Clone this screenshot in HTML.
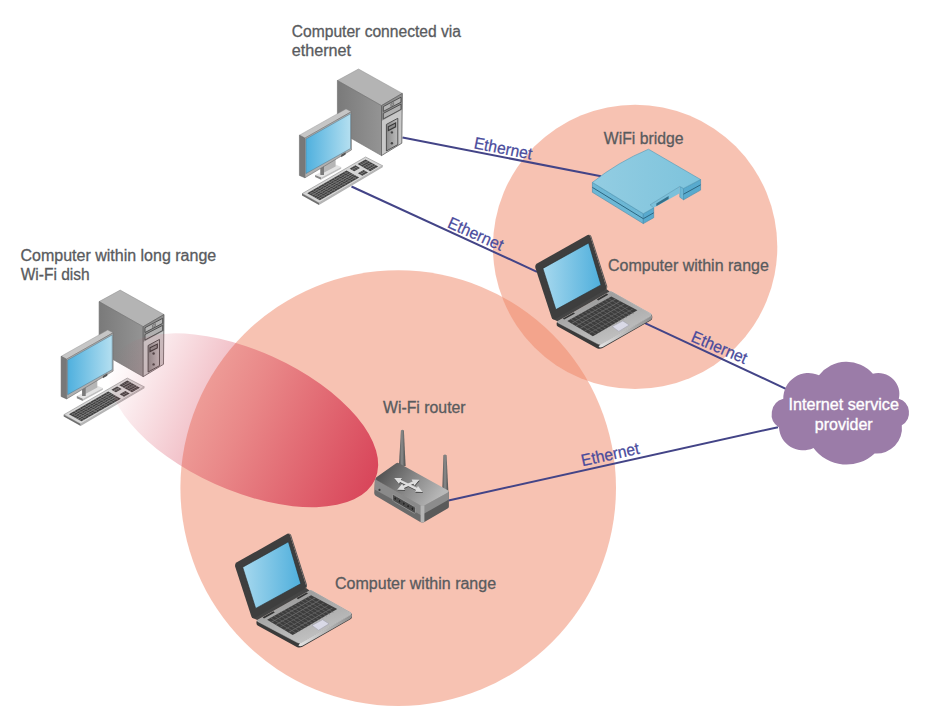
<!DOCTYPE html>
<html lang="en">
<head>
<meta charset="utf-8">
<title>Wi-Fi network diagram</title>
<style>
html,body{margin:0;padding:0;background:#fff;}
body{width:940px;height:722px;overflow:hidden;}
svg{display:block;}
text{font-family:"Liberation Sans",sans-serif;font-size:15.8px;}
.lbl{fill:#595b5e;stroke:#595b5e;stroke-width:0.3px;}
.eth{fill:#4a4b9c;stroke:#4a4b9c;stroke-width:0.25px;}
.wht{fill:#ffffff;stroke:#ffffff;stroke-width:0.35px;}
.wire{stroke:#434487;stroke-width:2;fill:none;}
</style>
</head>
<body>
<svg width="940" height="722" viewBox="0 0 940 722">
<defs>
<linearGradient id="beam" gradientUnits="userSpaceOnUse" x1="-144" y1="0" x2="144" y2="0">
<stop offset="0" stop-color="#d4334d" stop-opacity="0"/>
<stop offset="0.5" stop-color="#d5344c" stop-opacity="0.41"/>
<stop offset="1" stop-color="#d4334d" stop-opacity="0.87"/>
</linearGradient>
<linearGradient id="scr" x1="0" y1="0" x2="1" y2="0">
<stop offset="0" stop-color="#4fb0de"/>
<stop offset="1" stop-color="#b4dff0"/>
</linearGradient>
<linearGradient id="lscr" x1="0" y1="0" x2="1" y2="0">
<stop offset="0" stop-color="#a6d8ee"/>
<stop offset="1" stop-color="#4fafdc"/>
</linearGradient>
<linearGradient id="twl" x1="0" y1="0" x2="1" y2="0">
<stop offset="0" stop-color="#7a7a7a"/>
<stop offset="1" stop-color="#949494"/>
</linearGradient>
<linearGradient id="twp" x1="0" y1="0" x2="1" y2="0">
<stop offset="0" stop-color="#8c8c8c"/>
<stop offset="1" stop-color="#bdbdbd"/>
</linearGradient>
<linearGradient id="rtop" gradientUnits="userSpaceOnUse" x1="386" y1="468" x2="436" y2="502">
<stop offset="0" stop-color="#565656"/>
<stop offset="0.5" stop-color="#8a8a8a"/>
<stop offset="1" stop-color="#b8b8b8"/>
</linearGradient>
<linearGradient id="ant" x1="0" y1="0" x2="1" y2="0">
<stop offset="0" stop-color="#505050"/>
<stop offset="0.45" stop-color="#8c8c8c"/>
<stop offset="1" stop-color="#4c4c4c"/>
</linearGradient>
<linearGradient id="brg" x1="0" y1="0" x2="1" y2="0">
<stop offset="0" stop-color="#93cde2"/>
<stop offset="1" stop-color="#7dc3dc"/>
</linearGradient>
<linearGradient id="lbase" gradientUnits="userSpaceOnUse" x1="600" y1="300" x2="612" y2="342">
<stop offset="0" stop-color="#a0a0a0"/>
<stop offset="1" stop-color="#c2c2c2"/>
</linearGradient>
<linearGradient id="lside" gradientUnits="userSpaceOnUse" x1="600" y1="346" x2="652" y2="317">
<stop offset="0" stop-color="#e2e2e2"/>
<stop offset="0.5" stop-color="#b8b8b8"/>
<stop offset="1" stop-color="#8e8e8e"/>
</linearGradient>

<g id="pc"><polygon points="337.4,80.5 358.5,69.0 402.3,93.4 381.5,105.6" fill="#b4b4b4" stroke="#8c8c8c" stroke-width="0.5"/>
<polygon points="337.4,80.5 381.5,105.6 381.5,155.6 337.4,130.5" fill="url(#twl)" stroke="#6c6c6c" stroke-width="0.6"/>
<polygon points="381.5,105.6 402.3,93.4 401.8,143.2 381.5,155.6" fill="#c8c8c8"/>
<polygon points="381.5,105.6 402.3,93.4 402.2,109.6 381.5,121.0" fill="#8e8e8e"/>
<polygon points="381.5,105.6 402.3,93.4 401.8,143.2 381.5,155.6" fill="none" stroke="#5c5c5c" stroke-width="0.8"/>
<polygon points="383.3,106.6 401.0,97.2 401.0,102.2 383.3,111.4" fill="#b4b4b4" stroke="#484848" stroke-width="0.9"/>
<polygon points="383.3,113.4 401.0,104.2 401.0,109.4 383.3,118.9" fill="#b0b0b0" stroke="#484848" stroke-width="0.9"/>
<polygon points="390.8,104.0 393.7,102.5 393.7,105.0 390.8,106.5" fill="#a0a0a0" stroke="#555" stroke-width="0.5"/>
<polygon points="386.4,124.4 397.8,118.3 397.8,144.6 386.4,151.0" fill="url(#twp)" stroke="#444" stroke-width="0.9"/>
<polygon points="388.3,126.7 395.6,123.0 395.6,126.8 388.3,130.5" fill="#8c8c8c" stroke="#3a3a3a" stroke-width="1.1"/>
<circle cx="391.9" cy="132.4" r="1.2" fill="#444"/>
<circle cx="391.9" cy="143.3" r="1.2" fill="#444"/>
<polygon points="299.4,135.2 346.0,108.9 351.4,111.7 304.9,138.1" fill="#c6c6c6" stroke="#8a8a8a" stroke-width="0.4"/>
<polygon points="299.4,135.2 304.9,138.1 304.9,177.8 299.4,175.4" fill="#787878" stroke="#5e5e5e" stroke-width="0.5"/>
<polygon points="315.1,174.9 335.7,164.6 341.2,166.9 321.2,177.6" fill="#e4e4e4"/>
<polygon points="315.1,174.9 321.2,177.6 321.2,179.8 315.1,177.1" fill="#888"/>
<polygon points="321.2,177.6 341.2,166.9 341.2,168.7 321.2,179.6" fill="#c0c0c0"/>
<polygon points="320.4,166.0 335.6,158.0 335.6,166.5 320.4,174.6" fill="#b6b6b6"/>
<polygon points="320.4,167.0 324.0,165.3 324.0,175.0 320.4,175.0" fill="#7a7a7a"/>
<polygon points="304.9,138.1 351.4,111.7 351.4,150.0 304.9,177.8" fill="#b0b0b0" stroke="#6a6a6a" stroke-width="0.6"/>
<polygon points="305.9,139.0 350.5,113.8 350.5,148.5 305.9,173.6" fill="url(#scr)" stroke="#4f7386" stroke-width="0.5"/>
<polygon points="341.2,154.8 345.6,152.2 345.6,154.6 341.2,157.2" fill="#555"/>
<polygon points="302.2,193.6 365.6,157.0 382.7,165.8 319.0,203.0" fill="#d6d6d6" stroke="#8a8a8a" stroke-width="0.6"/>
<polygon points="302.0,193.6 319.0,203.0 319.0,205.0 302.0,195.4" fill="#6e6e6e"/>
<polygon points="319.0,203.0 382.7,165.8 382.7,167.2 319.0,205.0" fill="#b4b4b4"/>
<g transform="matrix(63.4,-36.6,16.8,9.4,302.2,193.6)">
<rect x="0.045" y="0.130" width="0.620" height="0.750" fill="#3e3e3e"/>
<rect x="0.045" y="0.238" width="0.620" height="0.034" fill="#8e8e8e"/>
<rect x="0.045" y="0.363" width="0.620" height="0.034" fill="#8e8e8e"/>
<rect x="0.045" y="0.488" width="0.620" height="0.034" fill="#8e8e8e"/>
<rect x="0.045" y="0.613" width="0.620" height="0.034" fill="#8e8e8e"/>
<rect x="0.045" y="0.738" width="0.620" height="0.034" fill="#8e8e8e"/>
<rect x="0.0828" y="0.130" width="0.007" height="0.750" fill="#808080"/>
<rect x="0.1242" y="0.130" width="0.007" height="0.750" fill="#808080"/>
<rect x="0.1655" y="0.130" width="0.007" height="0.750" fill="#808080"/>
<rect x="0.2068" y="0.130" width="0.007" height="0.750" fill="#808080"/>
<rect x="0.2482" y="0.130" width="0.007" height="0.750" fill="#808080"/>
<rect x="0.2895" y="0.130" width="0.007" height="0.750" fill="#808080"/>
<rect x="0.3308" y="0.130" width="0.007" height="0.750" fill="#808080"/>
<rect x="0.3722" y="0.130" width="0.007" height="0.750" fill="#808080"/>
<rect x="0.4135" y="0.130" width="0.007" height="0.750" fill="#808080"/>
<rect x="0.4548" y="0.130" width="0.007" height="0.750" fill="#808080"/>
<rect x="0.4962" y="0.130" width="0.007" height="0.750" fill="#808080"/>
<rect x="0.5375" y="0.130" width="0.007" height="0.750" fill="#808080"/>
<rect x="0.5788" y="0.130" width="0.007" height="0.750" fill="#808080"/>
<rect x="0.6202" y="0.130" width="0.007" height="0.750" fill="#808080"/>
<rect x="0.715" y="0.130" width="0.090" height="0.270" fill="#3e3e3e"/>
<rect x="0.715" y="0.248" width="0.090" height="0.034" fill="#8e8e8e"/>
<rect x="0.7415" y="0.130" width="0.007" height="0.270" fill="#808080"/>
<rect x="0.7715" y="0.130" width="0.007" height="0.270" fill="#808080"/>
<rect x="0.715" y="0.620" width="0.090" height="0.260" fill="#3e3e3e"/>
<rect x="0.715" y="0.733" width="0.090" height="0.034" fill="#8e8e8e"/>
<rect x="0.7415" y="0.620" width="0.007" height="0.260" fill="#808080"/>
<rect x="0.7715" y="0.620" width="0.007" height="0.260" fill="#808080"/>
<rect x="0.840" y="0.130" width="0.125" height="0.750" fill="#3e3e3e"/>
<rect x="0.840" y="0.263" width="0.125" height="0.034" fill="#8e8e8e"/>
<rect x="0.840" y="0.413" width="0.125" height="0.034" fill="#8e8e8e"/>
<rect x="0.840" y="0.563" width="0.125" height="0.034" fill="#8e8e8e"/>
<rect x="0.840" y="0.713" width="0.125" height="0.034" fill="#8e8e8e"/>
<rect x="0.8678" y="0.130" width="0.007" height="0.750" fill="#808080"/>
<rect x="0.8990" y="0.130" width="0.007" height="0.750" fill="#808080"/>
<rect x="0.9303" y="0.130" width="0.007" height="0.750" fill="#808080"/>
</g></g>
<g id="laptop"><path d="M557.0,322.0 L609.0,292.0 Q610.6,291.1 612.2,292.0 L650.8,313.8 Q652.4,315.0 652.2,316.8 L652.2,318.2 Q652.0,319.8 650.2,320.8 L602.6,348.0 Q599.8,349.4 597.0,348.2 L557.8,326.6 Q556.4,325.6 556.6,323.4 Z" fill="#3a3a3a"/>
<path d="M600.0,344.4 L651.6,315.2 Q652.6,316.6 652.0,318.0 Q651.6,319.4 650.0,320.2 L602.6,347.0 Q600.4,347.8 598.6,347.0 Z" fill="url(#lside)"/>
<path d="M557.4,321.2 L609.0,291.9 Q610.6,291.1 612.2,291.9 L650.8,313.6 Q652.4,314.8 650.6,316.0 L602.0,343.8 Q599.8,344.8 597.6,343.8 L558.0,322.8 Q556.8,322.0 557.4,321.2 Z" fill="url(#lbase)" stroke="#cfcfcf" stroke-width="0.5"/>
<polygon points="552.0,318.6 605.6,288.6 609.6,291.6 557.4,321.2" fill="#454545"/>
<polygon points="567.3,320.9 611.3,296.4 637.4,310.2 592.9,336.2" fill="#3d3d3d"/>
<g transform="matrix(44.0,-24.5,25.6,15.3,567.3,320.9)" stroke="#6c6c6c" fill="none">
<line x1="0" y1="0.167" x2="1" y2="0.167" stroke-width="0.026"/>
<line x1="0" y1="0.333" x2="1" y2="0.333" stroke-width="0.026"/>
<line x1="0" y1="0.500" x2="1" y2="0.500" stroke-width="0.026"/>
<line x1="0" y1="0.667" x2="1" y2="0.667" stroke-width="0.026"/>
<line x1="0" y1="0.833" x2="1" y2="0.833" stroke-width="0.026"/>
<line x1="0.077" y1="0" x2="0.077" y2="1" stroke-width="0.014"/>
<line x1="0.154" y1="0" x2="0.154" y2="1" stroke-width="0.014"/>
<line x1="0.231" y1="0" x2="0.231" y2="1" stroke-width="0.014"/>
<line x1="0.308" y1="0" x2="0.308" y2="1" stroke-width="0.014"/>
<line x1="0.385" y1="0" x2="0.385" y2="1" stroke-width="0.014"/>
<line x1="0.462" y1="0" x2="0.462" y2="1" stroke-width="0.014"/>
<line x1="0.538" y1="0" x2="0.538" y2="1" stroke-width="0.014"/>
<line x1="0.615" y1="0" x2="0.615" y2="1" stroke-width="0.014"/>
<line x1="0.692" y1="0" x2="0.692" y2="1" stroke-width="0.014"/>
<line x1="0.769" y1="0" x2="0.769" y2="1" stroke-width="0.014"/>
<line x1="0.846" y1="0" x2="0.846" y2="1" stroke-width="0.014"/>
<line x1="0.923" y1="0" x2="0.923" y2="1" stroke-width="0.014"/>
</g>
<polygon points="612.2,326.6 622.8,320.9 629.2,325.0 618.8,331.4" fill="#d9d9e6" stroke="#9a9aa8" stroke-width="0.5"/>
<polygon points="562.8,318.4 573.6,312.4 575.0,313.6 564.2,319.6" fill="#333"/>
<polygon points="596.8,299.2 606.8,293.6 608.2,294.8 598.2,300.4" fill="#333"/>
<path d="M536.6,263.8 L587.6,234.9 Q589.6,234.2 590.4,236.6 L606.2,286.4 Q606.8,288.8 605.0,290.0 L555.0,319.2 Q552.6,320.4 551.6,317.6 L535.4,268.0 Q534.8,265.0 536.6,263.8 Z" fill="#3e3e3e"/>
<path d="M589.2,234.8 Q590.6,234.6 591.4,236.4 L607.2,286.0 Q607.6,288.2 606.2,289.4 L605.0,290.0 Q606.8,288.8 606.2,286.4 L590.4,236.6 Q589.9,235.2 589.2,234.8 Z" fill="#5a5a5a"/>
<polygon points="542.9,268.4 588.6,243.0 601.0,284.9 555.9,309.6" fill="url(#lscr)" stroke="#2a2a2a" stroke-width="0.6"/></g>
</defs>
<rect width="940" height="722" fill="#ffffff"/>
<circle cx="398.2" cy="488.1" r="217.8" fill="#ef8565" fill-opacity="0.5"/>
<circle cx="635.1" cy="246.9" r="142.2" fill="#ef8565" fill-opacity="0.5"/>
<line class="wire" x1="402.5" y1="137.45" x2="601" y2="176.35"/>
<line class="wire" x1="351.5" y1="186.5" x2="537" y2="271.8"/>
<line class="wire" x1="645" y1="323.2" x2="788" y2="389.8"/>
<line class="wire" x1="448.5" y1="500.5" x2="778" y2="427.15"/>
<use href="#pc"/>
<use href="#pc" transform="translate(-238.3,221.1)"/>
<g transform="translate(243.7,420.3) rotate(24.23)"><ellipse cx="0" cy="0" rx="144.06" ry="69.88" fill="url(#beam)"/></g>
<g><polygon points="592.4,182.4 643.3,213.7 643.3,223.6 592.4,192.3" fill="#6cb7d5" stroke="#3f8cae" stroke-width="0.6"/>
<polygon points="643.3,213.7 653.7,207.8 653.7,217.7 643.3,223.6" fill="#58aace" stroke="#3f8cae" stroke-width="0.6"/>
<polygon points="683.5,188.4 700.6,179.5 700.6,190.1 683.5,199.8" fill="#58aace" stroke="#3f8cae" stroke-width="0.6"/>
<polygon points="679.8,186.5 683.5,188.4 683.5,199.8 679.8,197.2" fill="#6cb7d5" stroke="#3f8cae" stroke-width="0.5"/>
<polygon points="650.0,204.8 679.8,186.5 679.8,193.2 653.7,207.8" fill="#7cc0da"/>
<polygon points="656.3,203.4 668.6,196.0 668.6,199.0 656.3,206.2" fill="#34708a"/>
<path d="M592.4,182.4 Q618,162 648.5,149.2 L700.6,179.5 L683.5,188.4 L679.8,186.5 L650.0,204.8 L653.7,207.8 L643.3,213.7 Z" fill="url(#brg)" stroke="#4a98b8" stroke-width="0.6"/>
<polyline points="592.4,187.4 643.3,218.7 653.7,212.8" fill="none" stroke="#2c6782" stroke-width="1"/>
<polyline points="683.5,194.2 700.6,184.8" fill="none" stroke="#2c6782" stroke-width="1"/></g>
<use href="#laptop"/>
<use href="#laptop" transform="translate(-300.2,298.8)"/>
<g><path d="M400.9,430.4 Q402.4,429.0 403.9,430.4 L405.6,466 L398.9,466 Z" fill="url(#ant)"/>
<path d="M443.4,455.2 Q445.0,453.8 446.6,455.2 L448.4,492.5 L442.2,492.5 Z" fill="url(#ant)"/>
<path d="M375.0,479.0 L422.5,506.0 L422.5,522.4 Q421.4,522.6 420.2,522.0 L375.6,495.8 Q374.2,494.8 374.2,493.0 Z" fill="#6a6a6a"/>
<polygon points="375.0,479.0 422.5,506.0 422.5,516.0 374.6,489.4" fill="#8a8a8a"/>
<path d="M422.5,506.0 L448.9,491.4 L448.9,506.4 Q448.9,507.8 447.6,508.6 L424.4,522.0 Q423.4,522.6 422.5,522.4 Z" fill="#5a5a5a"/>
<polygon points="422.5,506.0 448.9,491.4 448.9,499.6 422.5,514.6" fill="#8c8c8c"/>
<polygon points="420.6,505.6 424.4,505.6 424.4,522.0 422.5,522.5 420.6,522.0" fill="#b4b4b4"/>
<path d="M393.4,494.6 L414.4,506.6 Q415.4,507.4 415.4,508.6 L415.4,512.4 Q415.2,513.6 414.0,513.0 L393.6,501.2 Q392.6,500.4 392.6,499.2 L392.6,495.2 Q392.6,494.2 393.4,494.6 Z" fill="#484848" stroke="#b4b4b4" stroke-width="0.6"/>
<ellipse cx="395.2" cy="498.6" rx="1.2" ry="1.7" fill="#222" stroke="#6c6c6c" stroke-width="0.4"/>
<ellipse cx="399.5" cy="501.2" rx="1.2" ry="1.7" fill="#222" stroke="#6c6c6c" stroke-width="0.4"/>
<ellipse cx="403.8" cy="503.7" rx="1.2" ry="1.7" fill="#222" stroke="#6c6c6c" stroke-width="0.4"/>
<ellipse cx="408.1" cy="506.2" rx="1.2" ry="1.7" fill="#222" stroke="#6c6c6c" stroke-width="0.4"/>
<ellipse cx="412.4" cy="508.8" rx="1.2" ry="1.7" fill="#222" stroke="#6c6c6c" stroke-width="0.4"/>
<circle cx="379.5" cy="489.9" r="1.1" fill="#3a3a3a"/>
<path d="M376.4,477.2 L395.8,463.4 Q397.4,462.4 399.0,463.2 L447.8,490.2 Q449.6,491.4 447.8,492.6 L424.2,505.6 Q422.5,506.6 420.8,505.6 L376.4,480.0 Q374.6,478.6 376.4,477.2 Z" fill="url(#rtop)"/>
<polygon points="394.5,478.8 399.3,484.8 400.3,483.0 416.3,490.8 415.4,492.7 423.1,492.8 418.3,486.8 417.3,488.6 401.3,480.8 402.2,478.9" fill="#3e3e3e"/>
<polygon points="397.5,490.6 405.2,490.8 404.4,488.8 413.8,484.6 414.7,486.6 419.7,480.7 412.0,480.5 412.8,482.5 403.4,486.7 402.5,484.7" fill="#3e3e3e"/>
<polygon points="394.2,477.9 399.0,483.9 400.0,482.1 416.0,489.9 415.1,491.8 422.8,491.9 418.0,485.9 417.0,487.7 401.0,479.9 401.9,478.0" fill="#dedede"/>
<polygon points="397.2,489.7 404.9,489.9 404.1,487.9 413.5,483.7 414.4,485.7 419.4,479.8 411.7,479.6 412.5,481.6 403.1,485.8 402.2,483.8" fill="#dedede"/></g>
<path d="M819,375.3 A34.9,34.9 0 0 1 872.9,373.7 A21.0,21.0 0 0 1 898.8,398.8 A14.6,14.6 0 0 1 901.8,425.3 A25.2,25.2 0 0 1 874.6,453.4 A40.9,40.9 0 0 1 813.5,447.9 A24.0,24.0 0 0 1 779,427.4 A15.8,15.8 0 0 1 783.3,398.8 A25.2,25.2 0 0 1 819,375.3 Z" fill="#9b7ca8"/>
<text class="lbl" x="291.76" y="37.10" textLength="169.23" lengthAdjust="spacingAndGlyphs">Computer connected via</text>
<text class="lbl" x="291.73" y="56.10" textLength="59.29" lengthAdjust="spacingAndGlyphs">ethernet</text>
<text class="lbl" x="20.44" y="260.70" textLength="195.76" lengthAdjust="spacingAndGlyphs">Computer within long range</text>
<text class="lbl" x="20.65" y="279.70" textLength="69.00" lengthAdjust="spacingAndGlyphs">Wi-Fi dish</text>
<text class="lbl" x="603.75" y="143.60" textLength="79.79" lengthAdjust="spacingAndGlyphs">WiFi bridge</text>
<text class="lbl" x="608.04" y="270.70" textLength="160.85" lengthAdjust="spacingAndGlyphs">Computer within range</text>
<text class="lbl" x="382.95" y="413.40" textLength="82.70" lengthAdjust="spacingAndGlyphs">Wi-Fi router</text>
<text class="lbl" x="335.04" y="588.90" textLength="161.06" lengthAdjust="spacingAndGlyphs">Computer within range</text>
<text class="wht" x="788.47" y="410.30" textLength="110.40" lengthAdjust="spacingAndGlyphs">Internet service</text>
<text class="wht" x="814.79" y="430.40" textLength="57.85" lengthAdjust="spacingAndGlyphs">provider</text>
<text class="eth" style="font-size:16.6px" transform="translate(473.15,148.27) rotate(11.1)" textLength="59.00" lengthAdjust="spacingAndGlyphs">Ethernet</text>
<text class="eth" style="font-size:16.6px" transform="translate(446.53,226.92) rotate(24.1)" textLength="59.00" lengthAdjust="spacingAndGlyphs">Ethernet</text>
<text class="eth" style="font-size:16.6px" transform="translate(690.12,340.94) rotate(23.2)" textLength="59.00" lengthAdjust="spacingAndGlyphs">Ethernet</text>
<text class="eth" style="font-size:16.6px" transform="translate(582.55,466.25) rotate(-12.5)" textLength="59.00" lengthAdjust="spacingAndGlyphs">Ethernet</text>
</svg>
</body>
</html>
